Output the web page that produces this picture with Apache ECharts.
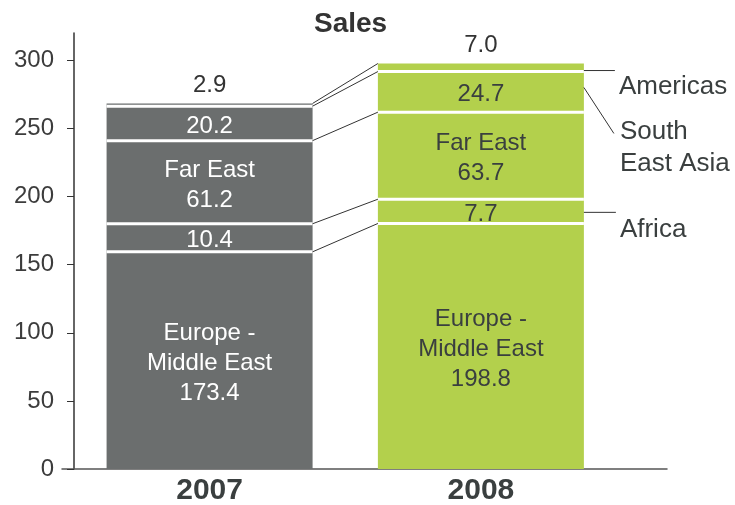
<!DOCTYPE html>
<html>
<head>
<meta charset="utf-8">
<script src="https://cdn.jsdelivr.net/npm/echarts@6/dist/echarts.min.js"></script>
<style>html,body{margin:0;padding:0;background:#fff}#c{width:735px;height:505px}</style>
</head>
<body>
<div id="c"></div>
<script>
// ---- data ----
const years = ['2007', '2008'];
const regions = ['Europe -\nMiddle East', 'Africa', 'Far East', 'South East Asia', 'Americas'];
const heights2007 = [159.4, 20.6, 61.0, 25.3, 2.0];
const heights2008 = [180.2, 17.8, 63.9, 29.8, 5.9];
// values printed on the chart
const printed2007 = ['173.4', '10.4', '61.2', '20.2', '2.9'];
const printed2008 = ['198.8', '7.7', '63.7', '24.7', '7.0'];
const showRegionName = [true, false, true, false, false];
const yTicks = [0, 50, 100, 150, 200, 250, 300];
const sideLabels = ['Americas', 'South\nEast Asia', 'Africa'];
const sideSegments = [4, 3, 1];

// ---- styles ----
const FONT = "'Liberation Sans', Arial, sans-serif";
const GRAY = '#6b6e6e';
const GREEN = '#b3d04c';
const DARK = '#3a3f3f';
const BAR_WIDTH = 206;
const HALF = BAR_WIDTH / 2;
const GAP = 3;
const sideStyle = [
  { dy: 3, end: [31, 0], text: [35, 16] },
  { dy: -4.4, end: [30, 46], text: [36, 60] },
  { dy: 1, end: [32, 0], text: [36, 17] }
];

function cumulative(arr) {
  const out = []; let s = 0;
  arr.forEach(v => { s += v; out.push(s); });
  return out;
}
const cum2007 = cumulative(heights2007);
const cum2008 = cumulative(heights2008);

const barSeries = regions.map((name, i) => {
  const isTop = i === regions.length - 1;
  const mk = (xi, h, printed, inColor) => ({
    value: [h, xi],
    itemStyle: { color: xi === 0 ? GRAY : GREEN },
    label: {
      color: isTop ? '#333' : inColor,
      formatter: showRegionName[i] ? name + '\n' + printed : printed
    }
  });
  return {
    type: 'bar',
    name: name,
    stack: 'sales',
    barWidth: BAR_WIDTH,
    encode: { x: 1, y: 0 },
    label: {
      show: true,
      position: isTop ? 'top' : 'inside',
      distance: 3,
      offset: isTop ? [0, 0] : [0, 3],
      fontFamily: FONT,
      fontSize: 24,
      lineHeight: 30
    },
    data: [
      mk(0, heights2007[i], printed2007[i], '#fff'),
      mk(1, heights2008[i], printed2008[i], DARK)
    ],
    silent: true,
    z: 2
  };
});

const connectorData = cum2007.map((c, k) => [0, c, 1, cum2008[k]]);
// internal boundaries of each bar (white separators)
const separatorData = [];
cum2007.slice(0, -1).forEach(c => separatorData.push([0, c]));
cum2008.slice(0, -1).forEach(c => separatorData.push([1, c]));

const sideData = sideSegments.map(s => {
  const lo = s === 0 ? 0 : cum2008[s - 1];
  return [1, lo, cum2008[s]];
});

const option = {
  animation: false,
  title: {
    text: 'Sales',
    left: 314,
    top: 10,
    padding: 0,
    textStyle: { fontFamily: FONT, fontSize: 28, fontWeight: 'bold', color: '#333' }
  },
  grid: { left: 62, right: 68, top: 33, bottom: 36, containLabel: false, outerBoundsMode: 'none' },
  xAxis: {
    type: 'value',
    min: -0.544,
    max: 1.686,
    splitLine: { show: false },
    axisTick: { show: false },
    axisLine: { show: true, onZero: false, lineStyle: { color: '#555', width: 1.5 } },
    axisLabel: {
      customValues: [0, 1],
      formatter: v => years[Math.round(v)] || '',
      fontFamily: FONT,
      fontSize: 30,
      fontWeight: 'bold',
      color: DARK,
      margin: 7
    }
  },
  yAxis: {
    type: 'value',
    min: 0,
    max: 320,
    interval: 50,
    offset: -12,
    splitLine: { show: false },
    axisLine: { show: true, onZero: false, lineStyle: { color: '#333', width: 1.5 } },
    axisTick: { show: true, length: 7, customValues: yTicks, lineStyle: { color: '#333' } },
    axisLabel: {
      customValues: yTicks,
      formatter: v => (v > 300 ? '' : String(v)),
      fontFamily: FONT,
      fontSize: 24,
      color: '#3c3c3c',
      margin: 20
    }
  },
  series: barSeries.concat([
    {
      type: 'custom',
      name: 'separators',
      silent: true,
      z: 3,
      encode: { x: 0, y: 1 },
      data: separatorData,
      renderItem: (params, api) => {
        const p = api.coord([api.value(0), api.value(1)]);
        return {
          type: 'line',
          shape: { x1: p[0] - HALF, y1: p[1], x2: p[0] + HALF, y2: p[1] },
          style: { stroke: '#fff', lineWidth: GAP }
        };
      }
    },
    {
      type: 'custom',
      name: 'connectors',
      silent: true,
      z: 4,
      encode: { x: [0, 2], y: [1, 3] },
      data: connectorData,
      renderItem: (params, api) => {
        const a = api.coord([api.value(0), api.value(1)]);
        const b = api.coord([api.value(2), api.value(3)]);
        return {
          type: 'line',
          shape: { x1: a[0] + HALF, y1: a[1], x2: b[0] - HALF, y2: b[1] },
          style: { stroke: '#333', lineWidth: 1 }
        };
      }
    },
    {
      type: 'custom',
      name: 'side labels',
      silent: true,
      z: 4,
      clip: false,
      encode: { x: 0, y: [1, 2] },
      data: sideData,
      renderItem: (params, api) => {
        const st = sideStyle[params.dataIndex];
        const mid = (api.value(1) + api.value(2)) / 2;
        const p = api.coord([api.value(0), mid]);
        const x0 = p[0] + HALF, y0 = p[1] + st.dy;
        return {
          type: 'group',
          children: [
            {
              type: 'line',
              shape: { x1: x0, y1: y0, x2: x0 + st.end[0], y2: y0 + st.end[1] },
              style: { stroke: '#333', lineWidth: 1 }
            },
            {
              type: 'text',
              x: x0 + st.text[0],
              y: y0 + st.text[1],
              style: {
                text: sideLabels[params.dataIndex],
                fontFamily: FONT,
                fontSize: 26,
                lineHeight: 32,
                fill: DARK,
                align: 'left',
                verticalAlign: 'middle'
              }
            }
          ]
        };
      }
    }
  ])
};

const chart = echarts.init(document.getElementById('c'), null, { renderer: 'canvas' });
chart.setOption(option);
</script>
</body>
</html>
